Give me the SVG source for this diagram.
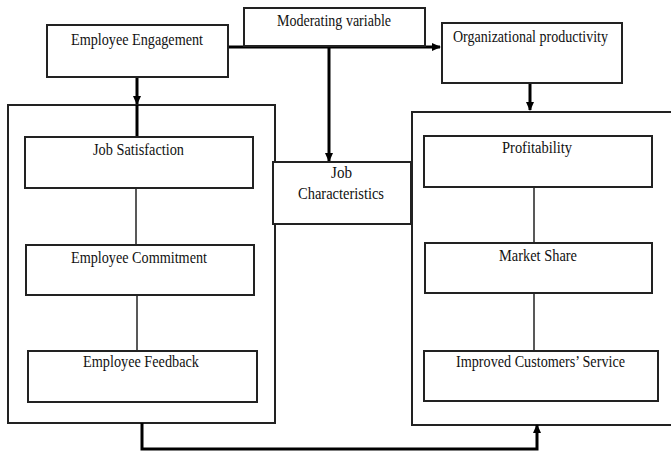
<svg xmlns="http://www.w3.org/2000/svg" width="671" height="451" viewBox="0 0 671 451">
<style>
.box{fill:#fff;stroke:#222;stroke-width:2}
.frame{fill:none;stroke:#222;stroke-width:2}
.t{font-family:"Liberation Serif","Times New Roman",serif;font-size:17px;fill:#111;text-anchor:middle}
.thick{fill:none;stroke:#000;stroke-width:3}
.thin{fill:none;stroke:#222;stroke-width:1.5}
</style>
<defs>
<marker id="ah" markerWidth="10" markerHeight="10" refX="8" refY="5" orient="auto" markerUnits="userSpaceOnUse">
<path d="M0,1 L9,5 L0,9 Z" fill="#000"/>
</marker>
</defs>
<g id="left-frame"><rect class="frame" x="8" y="105" width="267" height="318"/></g>
<g id="right-frame"><rect class="frame" x="412" y="112" width="265" height="313"/></g>
<g id="connectors">
<path class="thick" d="M228,47 H440" marker-end="url(#ah)"/>
<path class="thick" d="M329,47 V161" marker-end="url(#ah)"/>
<path class="thick" d="M137,77 V104" marker-end="url(#ah)"/>
<path class="thick" d="M137,105 V137"/>
<path class="thick" d="M530,83 V110" marker-end="url(#ah)"/>
<path class="thin" d="M136,188 V245"/>
<path class="thin" d="M137,295 V351"/>
<path class="thin" d="M534,187 V243"/>
<path class="thin" d="M534,293 V351"/>
<path class="thick" d="M142,423 V449 H537 V425" marker-end="url(#ah)"/>
</g>
<g id="moderating"><rect class="box" x="244" y="8" width="181" height="38"/><text class="t" x="334" y="26" textLength="114" lengthAdjust="spacingAndGlyphs">Moderating variable</text></g>
<g id="engagement"><rect class="box" x="47" y="25" width="181" height="52"/><text class="t" x="137" y="45" textLength="132" lengthAdjust="spacingAndGlyphs">Employee Engagement</text></g>
<g id="productivity"><rect class="box" x="442" y="23" width="180" height="60"/><text class="t" x="530.5" y="42" textLength="155" lengthAdjust="spacingAndGlyphs">Organizational productivity</text></g>
<g id="job-satisfaction"><rect class="box" x="25" y="137" width="228" height="51"/><text class="t" x="138.5" y="155" textLength="91" lengthAdjust="spacingAndGlyphs">Job Satisfaction</text></g>
<g id="employee-commitment"><rect class="box" x="26" y="245" width="228" height="50"/><text class="t" x="139" y="263" textLength="136" lengthAdjust="spacingAndGlyphs">Employee Commitment</text></g>
<g id="employee-feedback"><rect class="box" x="28" y="351" width="229" height="51"/><text class="t" x="141" y="367" textLength="116" lengthAdjust="spacingAndGlyphs">Employee Feedback</text></g>
<g id="job-characteristics"><rect class="box" x="273" y="162" width="138" height="62"/><text class="t" x="341.5" y="178" textLength="21" lengthAdjust="spacingAndGlyphs">Job</text><text class="t" x="341" y="199" textLength="86" lengthAdjust="spacingAndGlyphs">Characteristics</text></g>
<g id="profitability"><rect class="box" x="424" y="136" width="228" height="51"/><text class="t" x="537" y="153" textLength="70" lengthAdjust="spacingAndGlyphs">Profitability</text></g>
<g id="market-share"><rect class="box" x="425" y="243" width="227" height="50"/><text class="t" x="538" y="261" textLength="78" lengthAdjust="spacingAndGlyphs">Market Share</text></g>
<g id="customer-service"><rect class="box" x="424" y="351" width="234" height="50"/><text class="t" x="540.5" y="367" textLength="169" lengthAdjust="spacingAndGlyphs">Improved Customers’ Service</text></g>
</svg>
